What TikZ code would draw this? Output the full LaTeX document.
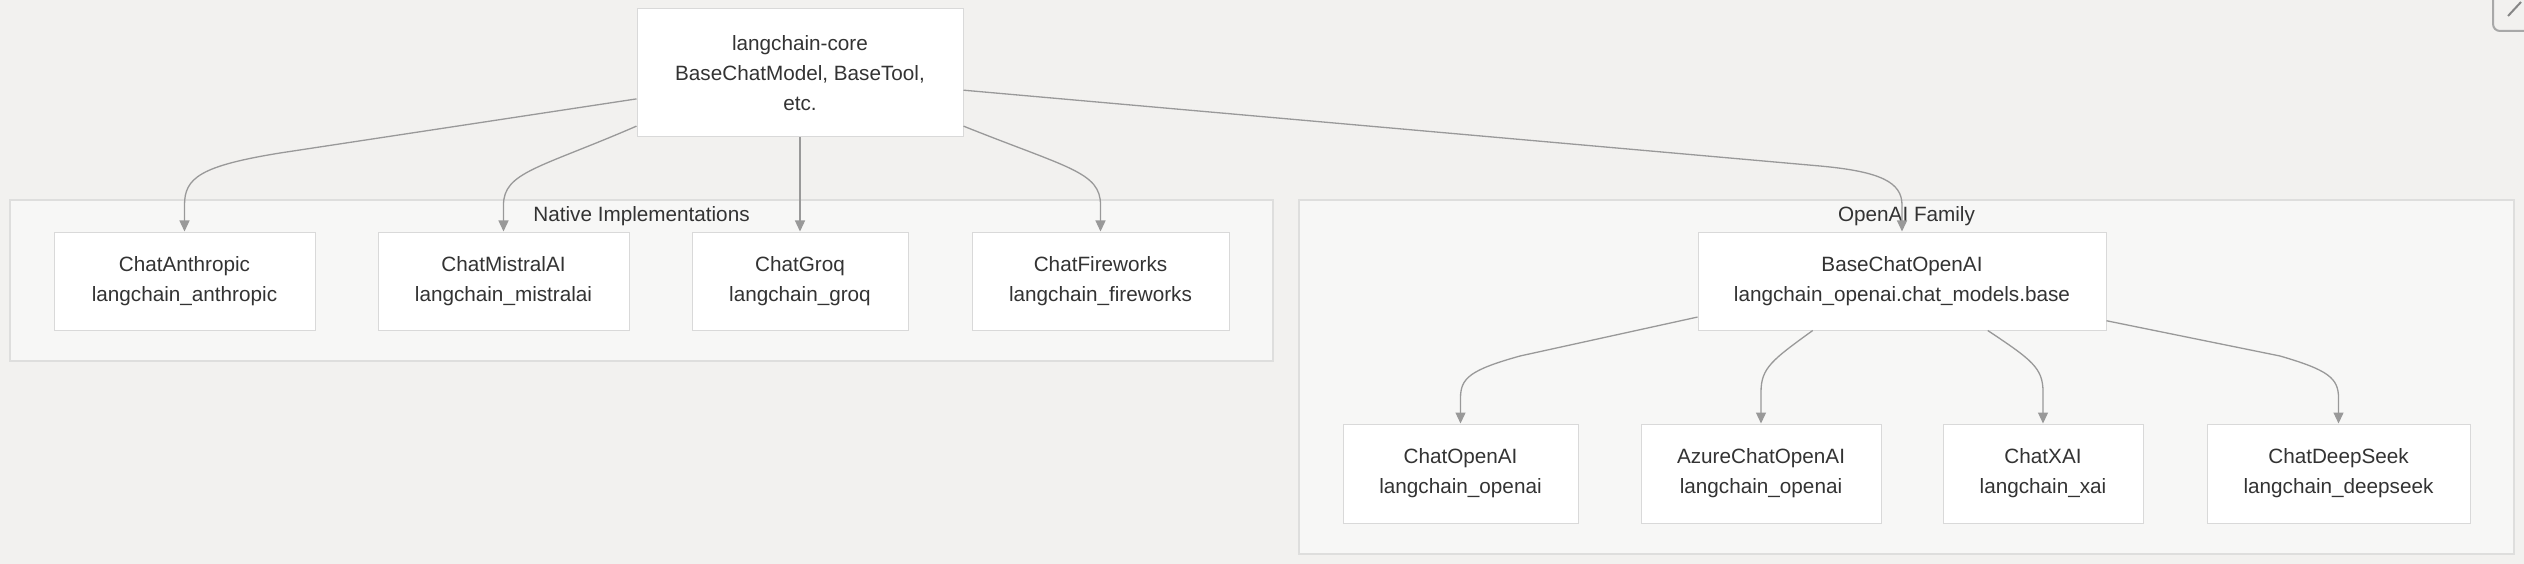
\documentclass[tikz,border=0pt]{standalone}
\usepackage{fontspec}
\setmainfont{Liberation Sans}
\usetikzlibrary{arrows.meta,calc}
\definecolor{bgc}{HTML}{F2F1EF}
\definecolor{clfill}{HTML}{F7F7F6}
\definecolor{clborder}{HTML}{DEDEDD}
\definecolor{nodeborder}{HTML}{D9D9D9}
\definecolor{edgec}{HTML}{999999}
\definecolor{textc}{HTML}{333333}
\definecolor{btnc}{HTML}{A8A8A8}
\tikzset{
  cluster/.style={draw=clborder, fill=clfill, line width=1.2pt, inner sep=0pt},
  lbl/.style={text=textc, font=\fontsize{20.7}{30}\selectfont, inner sep=0pt},
  box/.style={draw=nodeborder, fill=white, line width=1pt, align=center, inner sep=0pt,
    text=textc, font=\fontsize{20.7}{30}\selectfont},
  edge/.style={draw=edgec, line width=1.3pt, -{Triangle[length=11pt,width=10pt]}},
}
\begin{document}
\begin{tikzpicture}[x=1pt,y=-1pt]
\clip (0,0) rectangle (2524,564);
\useasboundingbox (0,0) rectangle (2524,564);
\fill[bgc] (0,0) rectangle (2524,564);
% clusters
\node[cluster, minimum width=1263pt, minimum height=161pt] (native) at (641.5,280.5) {};
\node[lbl] (nativelbl) at (641.5,216) {Native Implementations};
\node[cluster, minimum width=1215pt, minimum height=354pt] (oaifam) at (1906.5,377) {};
\node[lbl] (oailbl) at (1906.5,216) {OpenAI Family};
% nodes
\node[box, minimum width=326pt, minimum height=128pt] (core) at (800,73) {langchain-core\\BaseChatModel, BaseTool,\\etc.};
\node[box, minimum width=261pt, minimum height=98pt] (anth) at (184.5,281) {ChatAnthropic\\langchain\_anthropic};
\node[box, minimum width=251pt, minimum height=98pt] (mistral) at (503.5,281) {ChatMistralAI\\langchain\_mistralai};
\node[box, minimum width=216pt, minimum height=98pt] (groq) at (800,281) {ChatGroq\\langchain\_groq};
\node[box, minimum width=257pt, minimum height=98pt] (fire) at (1100.5,281) {ChatFireworks\\langchain\_fireworks};
\node[box, minimum width=408pt, minimum height=98pt] (base) at (1902,281) {BaseChatOpenAI\\langchain\_openai.chat\_models.base};
\node[box, minimum width=235pt, minimum height=99pt] (openai) at (1460.5,473.5) {ChatOpenAI\\langchain\_openai};
\node[box, minimum width=240pt, minimum height=99pt] (azure) at (1761,473.5) {AzureChatOpenAI\\langchain\_openai};
\node[box, minimum width=200pt, minimum height=99pt] (xai) at (2043,473.5) {ChatXAI\\langchain\_xai};
\node[box, minimum width=263pt, minimum height=99pt] (deep) at (2338.5,473.5) {ChatDeepSeek\\langchain\_deepseek};
% edges from core
\draw[edge] (core.189) -- (280,153) .. controls (200,166) and (184.5,178) .. (184.5,205) -- (anth.north);
\draw[edge] (core.198) .. controls (540,168) and (503.5,172) .. (503.5,205) -- (mistral.north);
\draw[edge] (core.south) -- (groq.north);
\draw[edge] (core.342) .. controls (1068,168) and (1100.5,172) .. (1100.5,205) -- (fire.north);
\draw[edge] (core.354.7) -- (1820,166) .. controls (1880,171.5) and (1902,182) .. (1902,205) -- (base.north);
% edges from base
\draw[edge] (base.190.3) -- (1520,356) .. controls (1470,370) and (1460.5,378) .. (1460.5,398) -- (openai.north);
\draw[edge] (base.209.1) .. controls (1772,360) and (1761,368) .. (1761,392) -- (azure.north);
\draw[edge] (base.330.3) .. controls (2032,360) and (2043,368) .. (2043,392) -- (xai.north);
\draw[edge] (base.349.7) -- (2280,356) .. controls (2328,370) and (2338.5,378) .. (2338.5,398) -- (deep.north);
% corner button (partly outside the view)
\draw[btnc, line width=2pt, rounded corners=7pt] (2493,-10) -- (2493,31) -- (2540,31);
\draw[btnc!80!black, line width=2pt] (2508,16) -- (2521,2);
\end{tikzpicture}
\end{document}
